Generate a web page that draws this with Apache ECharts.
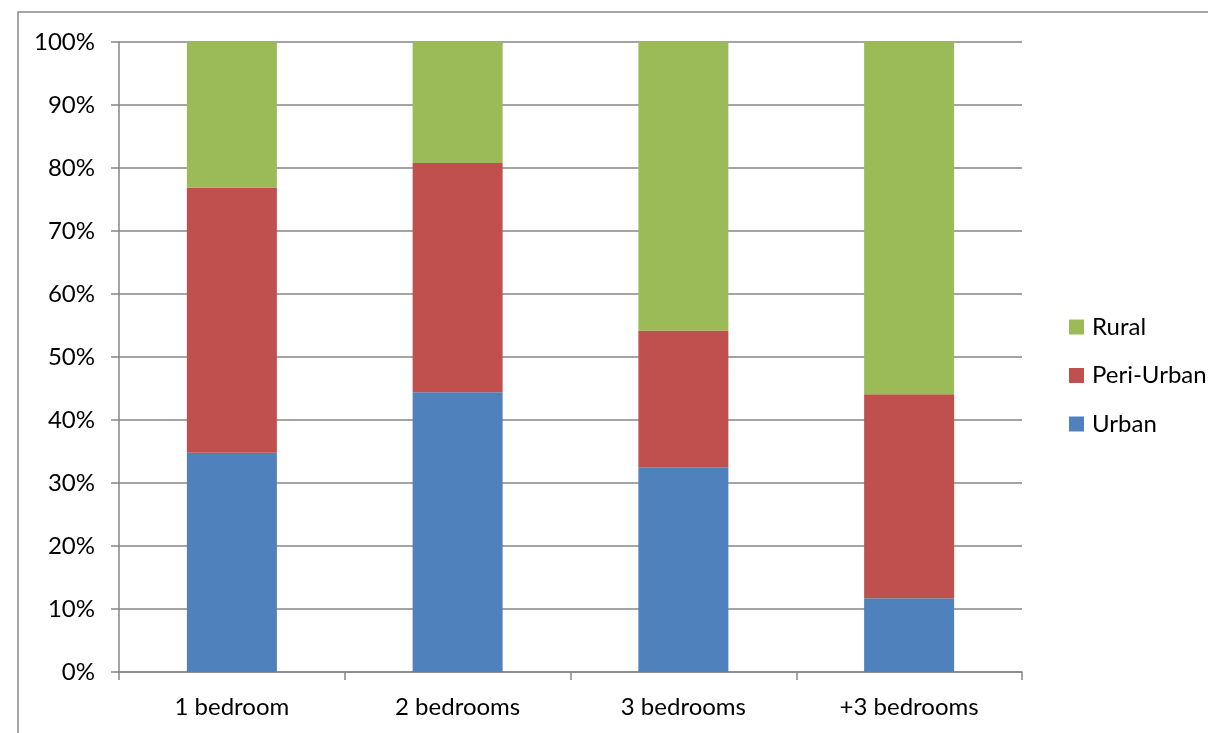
<!DOCTYPE html>
<html>
<head>
<meta charset="utf-8">
<script src="https://cdn.jsdelivr.net/npm/echarts@6/dist/echarts.min.js"></script>
<style>html,body{margin:0;padding:0;background:#fff;}#c{width:1208px;height:733px;}</style>
</head>
<body>
<div id="c"></div>
<script>
const categories = ['1 bedroom', '2 bedrooms', '3 bedrooms', '+3 bedrooms'];
const urban = [34.8, 44.4, 32.5, 11.7];
const periUrban = [42.1, 36.4, 21.7, 32.4];
const rural = [23.1, 19.2, 45.8, 55.9];
const yTicks = [0, 10, 20, 30, 40, 50, 60, 70, 80, 90, 100];

const FONT = 'Lato';
const FS = 24;
const chart = echarts.init(document.getElementById('c'), null, {renderer: 'canvas'});
const axisGray = '#868686';
chart.setOption({
  animation: false,
  backgroundColor: '#fff',
  textStyle: {fontFamily: FONT, color: '#000'},
  graphic: [{
    type: 'rect', shape: {x: 18, y: 12, width: 1220, height: 740},
    style: {fill: 'none', stroke: '#888', lineWidth: 1.5}, silent: true, z: -1
  }],
  grid: {left: 119, right: 186, top: 42, bottom: 61},
  legend: {
    orient: 'vertical', left: 1064, top: 310,
    data: ['Rural', 'Peri-Urban', 'Urban'],
    itemWidth: 15, itemHeight: 15, itemGap: 24.5,
    icon: 'rect',
    textStyle: {fontFamily: FONT, fontSize: FS, color: '#000', lineHeight: 24, padding: [0, 0, 0, 3]}
  },
  xAxis: {
    type: 'category', data: categories,
    axisLine: {lineStyle: {color: axisGray, width: 1.5}},
    axisTick: {show: true, length: 8, lineStyle: {color: axisGray, width: 1.5}},
    axisLabel: {fontFamily: FONT, fontSize: FS, color: '#000', margin: 23}
  },
  yAxis: {
    type: 'value', min: yTicks[0], max: yTicks[yTicks.length - 1], interval: 10,
    axisLine: {show: true, lineStyle: {color: axisGray, width: 1.5}},
    axisTick: {show: true, length: 8, lineStyle: {color: axisGray, width: 1.5}},
    splitLine: {lineStyle: {color: axisGray, width: 1.5}},
    axisLabel: {fontFamily: FONT, fontSize: FS, color: '#000', margin: 24, formatter: '{value}%'}
  },
  series: [
    {name: 'Urban', type: 'bar', stack: 't', data: urban, barWidth: 90, itemStyle: {color: '#4F81BD'}},
    {name: 'Peri-Urban', type: 'bar', stack: 't', data: periUrban, barWidth: 90, itemStyle: {color: '#C0504D'}},
    {name: 'Rural', type: 'bar', stack: 't', data: rural, barWidth: 90, itemStyle: {color: '#9BBB59'}}
  ]
});
</script>
</body>
</html>
